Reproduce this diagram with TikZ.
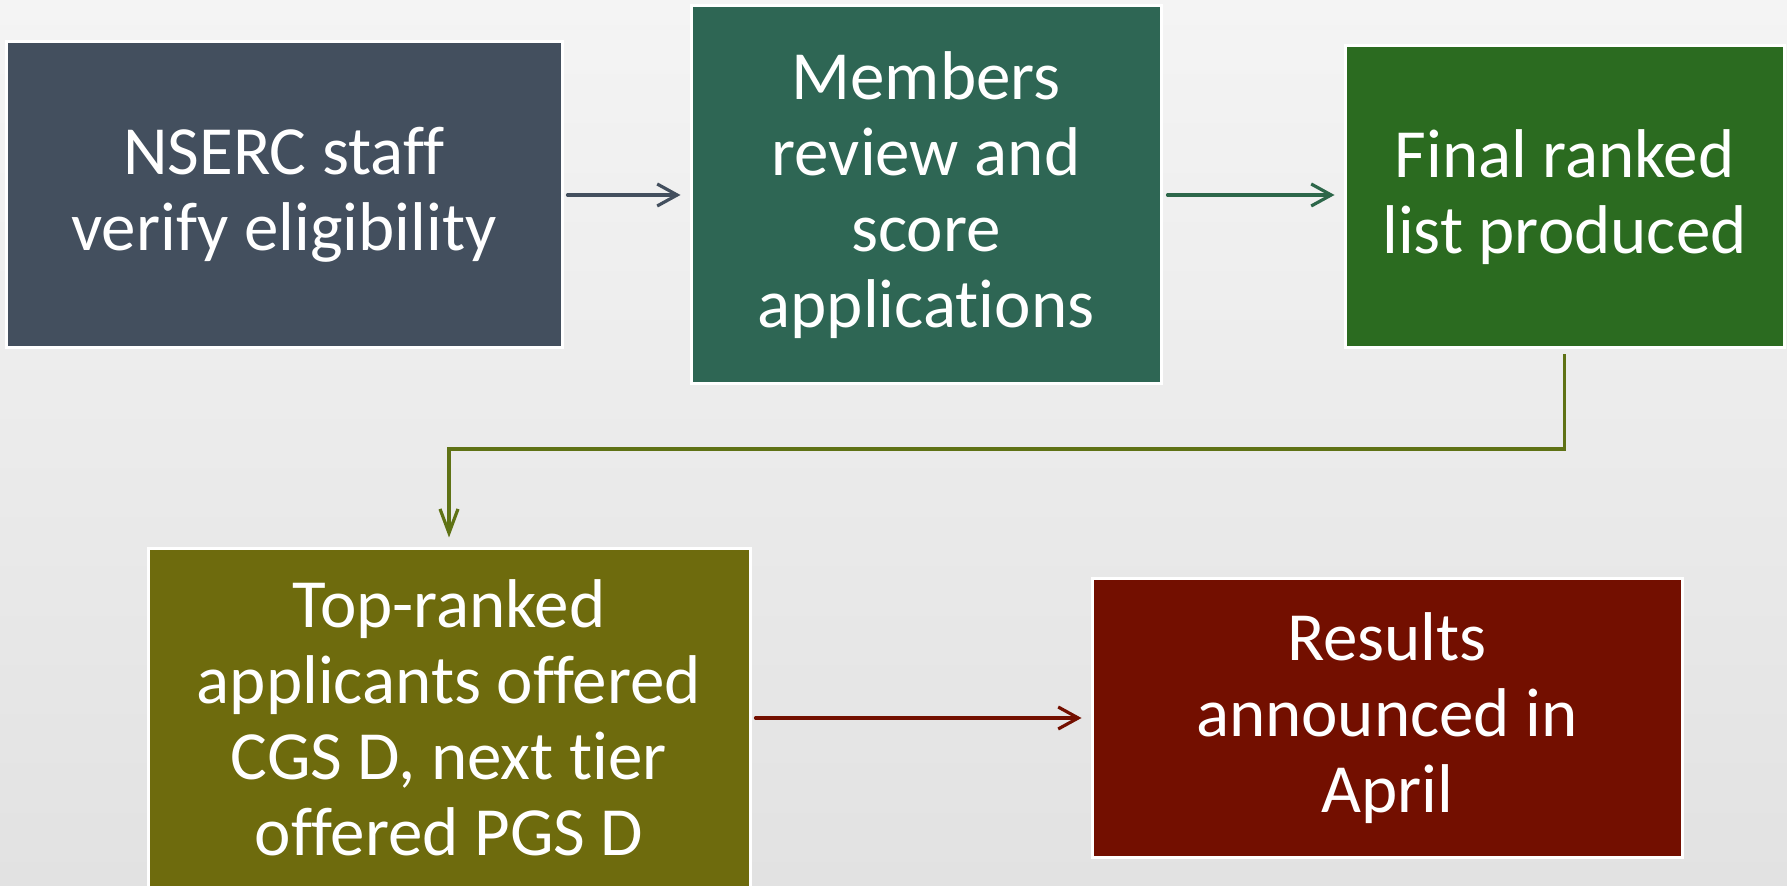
\documentclass[tikz,border=0pt]{standalone}
\usepackage{fontspec}
\setmainfont{Carlito}[Ligatures={NoCommon}]
\usetikzlibrary{arrows.meta}
\definecolor{bgtop}{HTML}{F4F4F4}
\definecolor{bgbot}{HTML}{E2E2E2}
\definecolor{slate}{HTML}{434F5E}
\definecolor{teal}{HTML}{2E6654}
\definecolor{leaf}{HTML}{2B6B20}
\definecolor{olive}{HTML}{6E6B0D}
\definecolor{olivearrow}{HTML}{5F7215}
\definecolor{maroon}{HTML}{730F00}
\begin{document}
\begin{tikzpicture}[x=0.5pt, y=-0.5pt,
    box/.style={draw=white, line width=1.5pt, text=white, align=center,
        inner sep=0pt, font=\fontsize{34.5}{38}\selectfont},
    link/.style={line width=1.6pt, line cap=round,
        -{Straight Barb[length=10pt,width=11pt,line width=1.6pt]}}]
        % 背景
        \useasboundingbox (0, 0) rectangle (1787, 886);
        \shade[top color=bgtop, bottom color=bgbot] (0, 0) rectangle (1787, 886);
        % 方框
        \node[box, fill=slate, minimum width=278pt, minimum height=153pt] (staff) at (284, 195)
            {NSERC staff\\verify eligibility};
        \node[box, fill=teal, minimum width=235pt, minimum height=189pt] (review) at (926, 195)
            {Members\\review and\\score\\applications};
        \node[box, fill=leaf, minimum width=219.5pt, minimum height=151pt] (ranked) at (1564.5, 197)
            {Final ranked\\list produced};
        \node[box, fill=olive, minimum width=301pt, minimum height=169pt] (offers) at (449, 718)
            {Top-ranked\\applicants offered\\CGS D, next tier\\offered PGS D};
        \node[box, fill=maroon, minimum width=295pt, minimum height=139pt] (results) at (1387, 718)
            {Results\\announced in\\April};
        % 箭头
        \coordinate (turn) at (0, 449);
        \draw[link, slate, shorten <=2pt, shorten >=4.5pt] (staff.east) -- (staff.east -| review.west);
        \draw[link, teal!80!leaf, shorten <=2.5pt, shorten >=4.5pt] (review.east) -- (review.east -| ranked.west);
        \draw[link, olivearrow, line cap=butt, shorten <=2.5pt, shorten >=5pt,
            -{Straight Barb[length=12pt,width=9pt,line width=1.6pt]}]
            (ranked.south) -- (ranked.south |- turn) -| (offers.north);
        \draw[link, maroon, shorten <=2pt, shorten >=4.5pt] (offers.east) -- (offers.east -| results.west);
    \end{tikzpicture}
\end{document}
